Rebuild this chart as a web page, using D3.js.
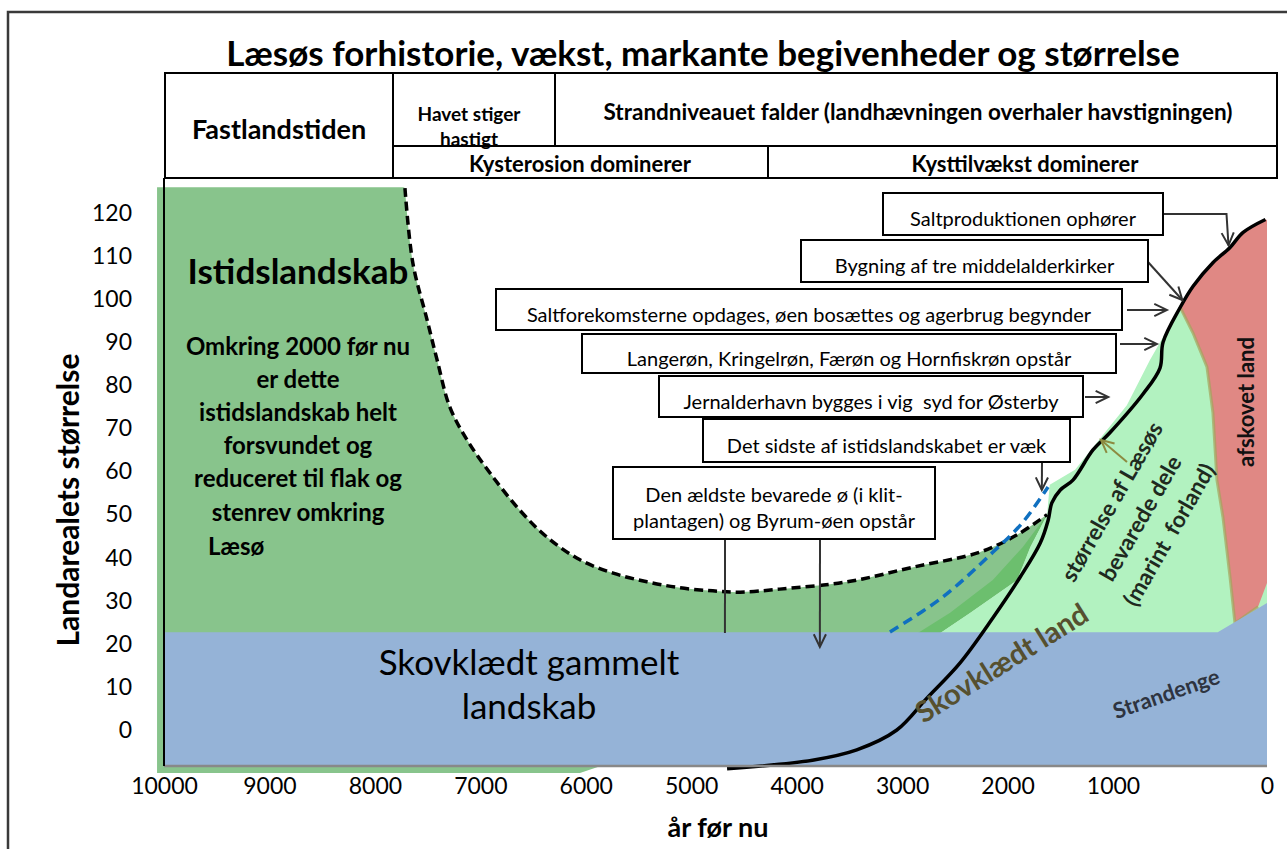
<!DOCTYPE html>
<html>
<head>
<meta charset="utf-8">
<script src="https://cdn.jsdelivr.net/npm/d3@7"></script>
<style>
body { margin: 0; background: #fff; }
svg text { font-family: Lato, "Open Sans", sans-serif; white-space: pre; }
</style>
</head>
<body>
<div id="viz"></div>
<script>
// akser
var xTicks = [10000, 9000, 8000, 7000, 6000, 5000, 4000, 3000, 2000, 1000, 0];
var yTicks = [0, 10, 20, 30, 40, 50, 60, 70, 80, 90, 100, 110, 120];

// [år før nu, størrelse]
var istidKant = [[7715,125.8],[7640,108.4],[7505,95.2],[7410,85.9],[7290,75],[7125,67.3],[6910,59.7],[6625,51],[6370,44.8],[6055,39.5],[5740,36.4],[5420,34.4],[5105,33],[4795,32.3],[4535,32],[4160,32.7],[3520,34.4],[2895,37.8],[2260,41.3],[1910,45.3],[1625,50]];
var istidHjorner = [[1785,42.5],[1910,34.8],[2355,27.2],[2640,22.5],[5865,-8.4],[6055,-10],[10066,-10],[10066,126],[7730,126]];
var laesoKyst = [[4660,-9],[3850,-7],[3430,-4.6],[3050,0],[2765,7.4],[2450,15.6],[2140,26],[1880,35.5],[1690,43.4],[1615,48.7],[1580,52.7],[1500,55.7],[1380,58],[1190,65],[1030,69],[805,78],[695,84],[675,90],[565,98],[480,103],[350,108.5],[240,112],[155,115.5],[10,118.5]];
var blaaKant = [[3115,22.75],[2612,30.9],[2138,41.3],[1863,48],[1616,56.4]];
var forland = [[2640,22.5],[2355,27.2],[1910,34.8],[1785,42.5],[1625,50],[1600,56.9],[1360,60.4],[910,75.4],[760,85.9],[630,94],[565,98.7],[0,99.8],[0,-8.4],[2640,-8.4]];
var kantBaand = [[2850,22.5],[2545,27.2],[2140,34.8],[1855,42.5],[1625,50],[1785,42.5],[1910,34.8],[2355,27.2],[2640,22.5]];
var afskovetKant = [[0,118.4],[0,34.1],[58,28.6],[208,24.8],[240,35.5],[286,49.4],[325,58],[351,73.6],[390,84.3],[481,92.2]];
var skov = [[10000,22.7],[320,22.7],[0,29.5],[0,-8.4],[10000,-8.4]];

var eventTexts = [
    ["Saltproduktionen ophører"],
    ["Bygning af tre middelalderkirker"],
    ["Saltforekomsterne opdages, øen bosættes og agerbrug begynder"],
    ["Langerøn, Kringelrøn, Færøn og Hornfiskrøn opstår"],
    ["Jernalderhavn bygges i vig  syd for Østerby"],
    ["Det sidste af istidslandskabet er væk"],
    ["Den ældste bevarede ø (i klit-", "plantagen) og Byrum-øen opstår"]
];
var eventTargets = [[250,112.5],[550,99.8],[650,97.5],[715,89.6],[1045,77.3],[1675,55.7],[3780,19.3]];

var W = 1287, H = 849;
var plotTop = 178, plotBottom = 766;

var svg = d3.select("#viz").append("svg")
    .attr("width", W)
    .attr("height", H);

var x = d3.scaleLinear().domain([10000, 1000, 0]).range([164, 1113, 1267]);
var y = d3.scaleLinear().domain([0, 120]).range([730, 213]);

var curve = d3.line()
    .x(function(d){ return x(d[0]); })
    .y(function(d){ return y(d[1]); })
    .curve(d3.curveCatmullRom.alpha(0.5));
var poly = d3.line()
    .x(function(d){ return x(d[0]); })
    .y(function(d){ return y(d[1]); });

function curvePlusCorners(pts, corners){
    var s = curve(pts);
    corners.forEach(function(c){ s += "L" + x(c[0]) + "," + y(c[1]); });
    return s + "Z";
}

function txt(g, s, px, py, size, opt){
    opt = opt || {};
    return g.append("text")
        .attr("x", px).attr("y", py)
        .attr("text-anchor", opt.anchor || "middle")
        .attr("dominant-baseline", "central")
        .style("font-size", size + "px")
        .style("font-weight", opt.bold ? "bold" : "normal")
        .style("fill", opt.fill || "#000")
        .text(s);
}

// ramme
svg.append("path").attr("d", "M8,849V12H1287")
    .style("fill", "none").style("stroke", "#3a3a3a").style("stroke-width", 2.5);

// titel
txt(svg, "Læsøs forhistorie, vækst, markante begivenheder og størrelse", 703, 52, 35, {bold: true});

// tabel
var tab = svg.append("g");
tab.append("rect").attr("x", 165).attr("y", 73).attr("width", 1112).attr("height", 105)
    .style("fill", "#fff").style("stroke", "#000").style("stroke-width", 2);
[[393,73,393,178],[555,73,555,146],[393,146,1277,146],[768,146,768,178]].forEach(function(l){
    tab.append("line").attr("x1", l[0]).attr("y1", l[1]).attr("x2", l[2]).attr("y2", l[3])
        .style("stroke", "#000").style("stroke-width", 2);
});
txt(tab, "Fastlandstiden", 279, 128, 27, {bold: true});
txt(tab, "Havet stiger", 469, 113, 19, {bold: true});
txt(tab, "hastigt", 469, 138, 19, {bold: true});
txt(tab, "Strandniveauet falder (landhævningen overhaler havstigningen)", 918, 111, 22.5, {bold: true});
txt(tab, "Kysterosion dominerer", 580, 163, 22, {bold: true});
txt(tab, "Kysttilvækst dominerer", 1025, 163, 22, {bold: true});

// flader
var plot = svg.append("g");
plot.append("path").attr("d", curvePlusCorners(istidKant, istidHjorner)).style("fill", "#88C48C");
plot.append("path").attr("d", poly(forland) + "Z").style("fill", "#B2F2C0");
plot.append("path").attr("d", poly(kantBaand) + "Z").style("fill", "#6CBF6E");
var rodTop = laesoKyst.filter(function(d){ return d[0] <= 565; });
plot.append("path").attr("d", curvePlusCorners(rodTop, afskovetKant)).style("fill", "#E08884");
plot.append("path").attr("d", poly([[565,98.2]].concat(afskovetKant.slice(2).reverse())))
    .style("fill", "none").style("stroke", "#A4A45C").style("stroke-width", 3).style("opacity", 0.7);
plot.append("path").attr("d", poly(skov) + "Z").style("fill", "#95B3D7");

// akselinjer
svg.append("line").attr("x1", x(10000)).attr("x2", x(0)).attr("y1", plotBottom).attr("y2", plotBottom)
    .style("stroke", "#888").style("stroke-width", 2.5);
svg.append("line").attr("x1", x(10000)).attr("x2", x(10000)).attr("y1", plotTop).attr("y2", plotBottom)
    .style("stroke", "#000").style("stroke-width", 2);

// kurver
plot.append("path").attr("d", curve(istidKant))
    .style("fill", "none").style("stroke", "#000").style("stroke-width", 3.5).style("stroke-dasharray", "9,5");
plot.append("path").attr("d", curve(blaaKant))
    .style("fill", "none").style("stroke", "#1070C0").style("stroke-width", 3.5).style("stroke-dasharray", "10,6");
plot.append("path").attr("d", curve(laesoKyst))
    .style("fill", "none").style("stroke", "#000").style("stroke-width", 3.5);

// tekster i fladerne
txt(plot, "Istidslandskab", 298, 270, 35, {bold: true});
var omkring = ["Omkring 2000 før nu", "er dette", "istidslandskab helt", "forsvundet og", "reduceret til flak og", "stenrev omkring"];
omkring.forEach(function(s, i){ txt(plot, s, 298, 345 + i * 33.2, 24, {bold: true}); });
txt(plot, "Læsø", 208, 545, 24, {bold: true, anchor: "start"});
txt(plot, "Skovklædt gammelt", 529, 661, 35);
txt(plot, "landskab", 529, 705, 35);

var rot = plot.append("g").attr("transform", "translate(1140,518) rotate(-60)");
["størrelse af Læsøs", "bevarede dele", "(marint  forland)"].forEach(function(s, i){
    txt(rot, s, 0, (i - 1) * 33, 22.5, {bold: true, fill: "#1f2a1f"});
});
txt(plot.append("g").attr("transform", "translate(1245,402) rotate(-90)"), "afskovet land", 0, 0, 22, {bold: true, fill: "#111"});
txt(plot.append("g").attr("transform", "translate(1001,662) rotate(-32)"), "Skovklædt land", 0, 0, 29, {bold: true, fill: "#56502F"});
txt(plot.append("g").attr("transform", "translate(1166,693) rotate(-19)"), "Strandenge", 0, 0, 22, {bold: true, fill: "#2e3440"});

// pile
function arrowHead(g, from, tip, color){
    var a = Math.atan2(tip[1] - from[1], tip[0] - from[0]), L = 14, s = 0.45;
    var p1 = [tip[0] - L * Math.cos(a - s), tip[1] - L * Math.sin(a - s)];
    var p2 = [tip[0] - L * Math.cos(a + s), tip[1] - L * Math.sin(a + s)];
    g.append("path").attr("d", "M" + p1 + "L" + tip + "L" + p2)
        .style("fill", "none").style("stroke", color).style("stroke-width", 2);
}
function link(g, pts, color, head){
    g.append("path").attr("d", "M" + pts.join("L"))
        .style("fill", "none").style("stroke", color).style("stroke-width", 2);
    if (head) arrowHead(g, pts[pts.length - 2], pts[pts.length - 1], color);
}

// olivenpil
var olive = plot.append("g");
link(olive, [[1127,462],[1101,440]], "#8C8A40", true);

// begivenheder (bokse)
var boxes = [
    {x: 883, y: 193, w: 280, h: 42, from: [1163, 214], elbow: true},
    {x: 801, y: 240, w: 347, h: 42, from: [1148, 262]},
    {x: 496, y: 289, w: 626, h: 41, from: [1127, 310]},
    {x: 582, y: 334, w: 534, h: 39, from: [1120, 344]},
    {x: 659, y: 376, w: 424, h: 41, from: [1085, 397]},
    {x: 703, y: 419, w: 367, h: 43, from: [1042, 462]},
    {x: 613, y: 467, w: 322, h: 72, from: [820, 539], extra: [[725, 539], [4680, 22.5]]}
];
var ev = svg.append("g");
boxes.forEach(function(b, i){
    var tip = [x(eventTargets[i][0]), y(eventTargets[i][1])];
    var pts = b.elbow ? [b.from, [tip[0] - 2, b.from[1]], tip] : [b.from, tip];
    link(ev, pts, "#333", true);
    if (b.extra) link(ev, [b.extra[0], [x(b.extra[1][0]), y(b.extra[1][1])]], "#333", false);
    ev.append("rect").attr("x", b.x).attr("y", b.y).attr("width", b.w).attr("height", b.h)
        .style("fill", "#fff").style("stroke", "#000").style("stroke-width", 2);
    var lines = eventTexts[i];
    lines.forEach(function(s, j){
        var cy = b.y + b.h / 2 + 4 + (j - (lines.length - 1) / 2) * 26;
        txt(ev, s, b.x + b.w / 2, cy, 20);
    });
});

// akser
var xa = svg.append("g").attr("transform", "translate(0," + plotBottom + ")")
    .call(d3.axisBottom(x).tickValues(xTicks).tickSize(0).tickPadding(12).tickFormat(d3.format("d")));
xa.select(".domain").remove();
xa.selectAll("text").style("font-size", "23px").style("font-family", 'Lato, "Open Sans", sans-serif').style("fill", "#000");

var ya = svg.append("g").attr("transform", "translate(" + x(10000) + ",0)")
    .call(d3.axisLeft(y).tickValues(yTicks).tickSize(0).tickPadding(32));
ya.select(".domain").remove();
ya.selectAll("text").style("font-size", "23px").style("font-family", 'Lato, "Open Sans", sans-serif').style("fill", "#000");

txt(svg, "år før nu", 718, 826, 27, {bold: true});
txt(svg.append("g").attr("transform", "translate(67,500) rotate(-90)"), "Landarealets størrelse", 0, 0, 30, {bold: true});
</script>
</body>
</html>
